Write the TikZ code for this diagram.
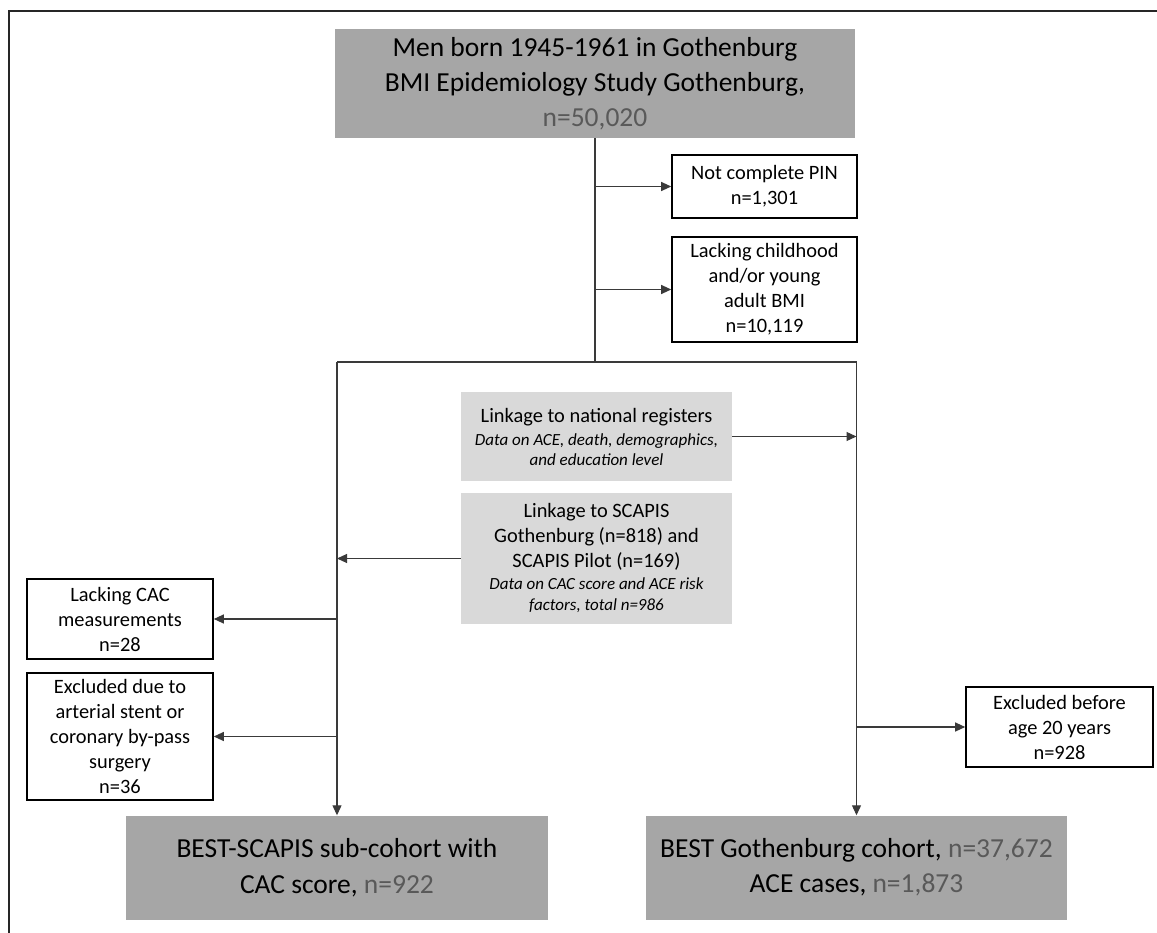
\documentclass[tikz,border=0pt]{standalone}
\usepackage{fontspec}
\setmainfont{Carlito}
\usetikzlibrary{arrows.meta}

\definecolor{boxdark}{HTML}{A6A6A6}
\definecolor{boxlight}{HTML}{D9D9D9}
\definecolor{numgray}{HTML}{595959}
\definecolor{linegray}{HTML}{3A3A3A}

% fuentes de los cuadros
\newcommand{\mainfont}{\fontsize{20.4}{25}\selectfont}
\newcommand{\datafont}{\fontsize{17}{21}\selectfont\itshape}
\newcommand{\num}[1]{\textcolor{numgray}{#1}}

\begin{document}
\begin{tikzpicture}[x=1pt,y=-1pt,
    cohort/.style={fill=boxdark, align=center, inner sep=0pt},
    linkage/.style={fill=boxlight, align=center, inner sep=0pt, font=\mainfont},
    excl/.style={draw=black, line width=1.6pt, fill=white, align=center, inner sep=0pt,
                 font=\mainfont},
    flow/.style={draw=linegray, line width=1.1pt},
    arr/.style={flow, -{Triangle[length=10pt,width=9pt]}}]
  \useasboundingbox (0,0) rectangle (1157,933);

  % Marco exterior (solo izquierda y arriba)
  \draw[line width=2pt, black!85] (8.5,933) -- (8.5,11) -- (1157,11);

  % Cohorte inicial
  \node[cohort, minimum width=520pt, minimum height=109pt,
        font=\fontsize{27.5}{35}\selectfont] (men) at (595,83.5)
    {Men born 1945-1961 in Gothenburg\\BMI Epidemiology Study Gothenburg,\\\num{n=50,020}};

  % Exclusiones iniciales
  \node[excl, minimum width=185pt, minimum height=63pt] (pin) at (764.5,186.5)
    {Not complete PIN\\n=1,301};
  \node[excl, minimum width=185pt, minimum height=105pt] (bmi) at (764.5,289.5)
    {Lacking childhood\\and/or young\\adult BMI\\n=10,119};

  % Enlaces a registros
  \node[linkage, minimum width=271pt, minimum height=89pt] (natreg) at (596.5,436.5)
    {Linkage to national registers\\[-2pt]
     {\datafont Data on ACE, death, demographics,}\\[-5pt]
     {\datafont and education level}};
  \node[linkage, minimum width=271pt, minimum height=131pt] (scapis) at (596.5,558.5)
    {Linkage to SCAPIS\\Gothenburg (n=818) and\\SCAPIS Pilot (n=169)\\[-3pt]
     {\datafont Data on CAC score and ACE risk}\\[-4pt]
     {\datafont factors, total n=986}};

  % Exclusiones de la sub-cohorte y de la cohorte
  \node[excl, minimum width=186pt, minimum height=80pt] (cac) at (120,619)
    {Lacking CAC\\measurements\\n=28};
  \node[excl, minimum width=186pt, minimum height=127pt] (stent) at (120,736.5)
    {Excluded due to\\arterial stent or\\coronary by-pass\\surgery\\n=36};
  \node[excl, minimum width=187pt, minimum height=80pt] (age) at (1059.5,727)
    {Excluded before\\age 20 years\\n=928};

  % Cohortes finales
  \node[cohort, minimum width=422pt, minimum height=104pt,
        font=\fontsize{27.5}{36}\selectfont] (subcohort) at (337,867.5)
    {BEST-SCAPIS sub-cohort with\\CAC score, \num{n=922}};
  \node[cohort, minimum width=421pt, minimum height=104pt,
        font=\fontsize{27.5}{35}\selectfont] (bestcohort) at (856.5,867.5)
    {BEST Gothenburg cohort, \num{n=37,672}\\ACE cases, \num{n=1,873}};

  % Puntos de bifurcacion
  \coordinate (split) at (595,362);
  \coordinate (leftbar) at (subcohort.north |- split);
  \coordinate (rightbar) at (bestcohort.north |- split);

  % Conectores
  \draw[flow] (men.south -| split) -- (split);
  \draw[arr] (pin.west -| split) -- (pin.west);
  \draw[arr] (bmi.west -| split) -- (bmi.west);
  \draw[flow] (leftbar) -- (rightbar);
  \draw[arr] (leftbar) -- (subcohort.north);
  \draw[arr] (rightbar) -- (bestcohort.north);
  \draw[arr] (natreg.east) -- (natreg.east -| rightbar);
  \draw[arr] (scapis.west) -- (scapis.west -| leftbar);
  \draw[arr] (cac.east -| leftbar) -- (cac.east);
  \draw[arr] (stent.east -| leftbar) -- (stent.east);
  \draw[arr] (age.west -| rightbar) -- (age.west);
\end{tikzpicture}
\end{document}
